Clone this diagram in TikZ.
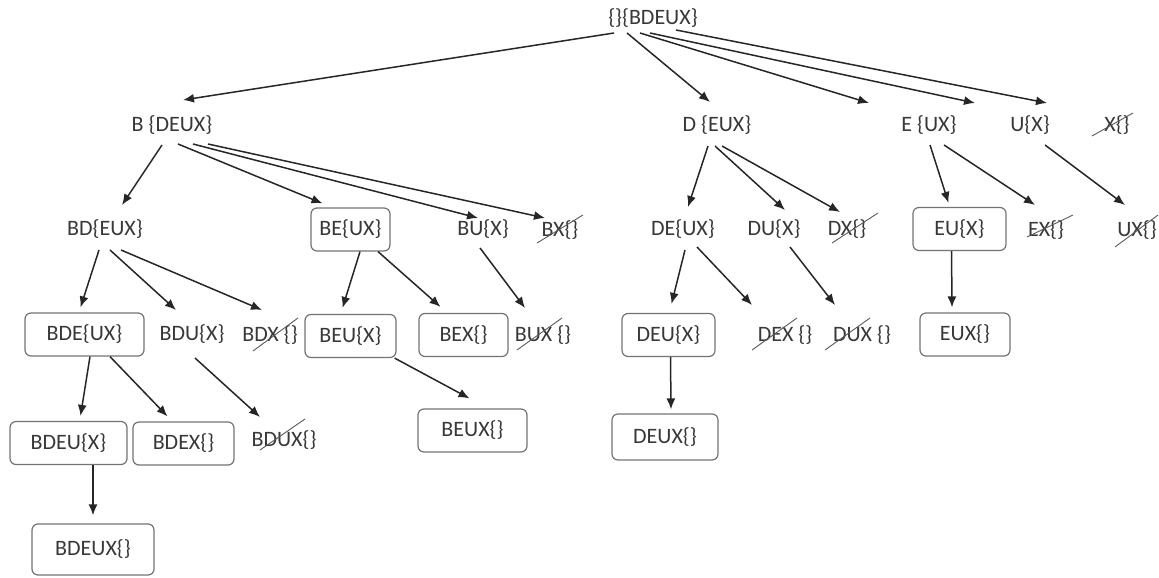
\documentclass[tikz,border=0pt]{standalone}
\usepackage{fontspec}
\setmainfont{Carlito}
\usetikzlibrary{arrows.meta}

\begin{document}
\begin{tikzpicture}[x=0.5pt,y=-0.5pt,
  >={Latex[length=5.5pt,width=4.5pt]},
  every node/.style={font=\fontsize{11}{13}\selectfont,text=black!78,inner sep=1pt},
  plain/.style={},
  box/.style={draw=black!55,line width=0.6pt,rounded corners=3pt,
    minimum height=21.5pt},
  edge/.style={->,line width=0.75pt,black!85},
  strike/.style={line width=0.45pt,black!65}]
  \useasboundingbox (0,0) rectangle (1159,577);

  % level 0 and 1
  \node[plain] (root) at (653,18) {\{\}\{BDEUX\}};
  \node[plain] (B) at (172,125) {B \{DEUX\}};
  \node[plain] (D) at (717,125) {D \{EUX\}};
  \node[plain] (E) at (929,125) {E \{UX\}};
  \node[plain] (U) at (1030,125) {U\{X\}};
  \node[plain] (X) at (1117,125) {X\{\}};

  % level 2
  \node[plain] (BD) at (105,229) {BD\{EUX\}};
  \node[box,minimum width=39.5pt] (BE) at (350.5,229.5) {BE\{UX\}};
  \node[plain] (BU) at (483,229) {BU\{X\}};
  \node[plain] (BX) at (560,230) {BX\{\}};
  \node[plain] (DE) at (683,229) {DE\{UX\}};
  \node[plain] (DU) at (774,229) {DU\{X\}};
  \node[plain] (DX) at (847,229) {DX\{\}};
  \node[box,minimum width=46.5pt] (EU) at (959.5,229) {EU\{X\}};
  \node[plain] (EX) at (1046,230) {EX\{\}};
  \node[plain] (UX) at (1137,230) {UX\{\}};

  % level 3
  \node[box,minimum width=59.5pt] (BDE) at (84.5,334.5) {BDE\{UX\}};
  \node[plain] (BDU) at (192,334) {BDU\{X\}};
  \node[plain] (BDX) at (270,335) {BDX \{\}};
  \node[box,minimum width=45.5pt] (BEU) at (350.5,336) {BEU\{X\}};
  \node[box,minimum width=44.5pt] (BEX) at (463.5,335) {BEX\{\}};
  \node[plain] (BUX) at (543,335) {BUX \{\}};
  \node[box,minimum width=46.5pt] (DEU) at (668.5,335) {DEU\{X\}};
  \node[plain] (DEX) at (785,335) {DEX \{\}};
  \node[plain] (DUX) at (862,335) {DUX \{\}};
  \node[box,minimum width=45pt] (EUX) at (965,334.5) {EUX\{\}};

  % level 4 and 5
  \node[box,minimum width=58.5pt] (BDEU) at (68.5,443) {BDEU\{X\}};
  \node[box,minimum width=50.5pt] (BDEX) at (183.5,443.5) {BDEX\{\}};
  \node[plain] (BDUX) at (284,440) {BDUX\{\}};
  \node[box,minimum width=54.5pt] (BEUX) at (472.5,430.5) {BEUX\{\}};
  \node[box,minimum width=53pt,minimum height=23pt] (DEUX) at (665,437) {DEUX\{\}};
  \node[box,minimum width=61pt,minimum height=25.5pt] (BDEUX) at (93,549.5) {BDEUX\{\}};

  % edges
  \draw[edge] ([shift={(-39,15)}]root.center) -- ([shift={(11,-25)}]B.center);
  \draw[edge] ([shift={(-26,15)}]root.center) -- ([shift={(-7,-23)}]D.center);
  \draw[edge] ([shift={(-13,15)}]root.center) -- ([shift={(-60,-22)}]E.center);
  \draw[edge] ([shift={(-3,15)}]root.center) -- ([shift={(-55,-22)}]U.center);
  \draw[edge] ([shift={(23,12)}]root.center) -- ([shift={(-70,-22)}]X.center);

  \draw[edge] ([shift={(-10,20)}]B.center) -- ([shift={(17,-24)}]BD.center);
  \draw[edge] ([shift={(6,19)}]B.center) -- ([shift={(-28,-4)}]BE.north);
  \draw[edge] ([shift={(21,19)}]B.center) -- ([shift={(-5,-11)}]BU.center);
  \draw[edge] ([shift={(36,19)}]B.center) -- ([shift={(-15,-12)}]BX.center);

  \draw[edge] ([shift={(-6,21)}]BD.center) -- ([shift={(-4,-5)}]BDE.north);
  \draw[edge] ([shift={(5,21)}]BD.center) -- ([shift={(-16,-24)}]BDU.center);
  \draw[edge] ([shift={(16,21)}]BD.center) -- ([shift={(-8,-25)}]BDX.center);
  \draw[edge] ([xshift=4.75pt]BE.south) -- ([shift={(-8,-6)}]BEU.north);
  \draw[edge] ([xshift=13.75pt]BE.south) -- ([shift={(-23,-6)}]BEX.north);
  \draw[edge] ([shift={(-3,19)}]BU.center) -- ([shift={(-18,-27)}]BUX.center);

  \draw[edge] ([xshift=2.75pt]BDE.south) -- ([shift={(12,-5)}]BDEU.north);
  \draw[edge] ([xshift=12.75pt]BDE.south) -- ([shift={(-16,-5)}]BDEX.north);
  \draw[edge] ([shift={(3,24)}]BDU.center) -- ([shift={(-24,-23)}]BDUX.center);
  \draw[edge] ([xshift=-1pt]BEU.south east) -- ([shift={(-3,-10)}]BEUX.north);
  \draw[edge] ([xshift=12.25pt]BDEU.south) -- ([shift={(0,-8)}]BDEUX.north);

  \draw[edge] ([shift={(-9,21)}]D.center) -- ([shift={(5,-22)}]DE.center);
  \draw[edge] ([shift={(-2,21)}]D.center) -- ([shift={(11,-19)}]DU.center);
  \draw[edge] ([shift={(5,21)}]D.center) -- ([shift={(-7,-17)}]DX.center);
  \draw[edge] ([shift={(2,21)}]DE.center) -- ([shift={(3,-9)}]DEU.north);
  \draw[edge] ([shift={(14,18)}]DE.center) -- ([shift={(-33,-30)}]DEX.center);
  \draw[edge] ([shift={(16,18)}]DU.center) -- ([shift={(-27,-30)}]DUX.center);
  \draw[edge] ([xshift=1pt]DEU.south) -- ([shift={(6,-4)}]DEUX.north);

  \draw[edge] ([shift={(1,20)}]E.center) -- ([shift={(-11,-4)}]EU.north);
  \draw[edge] ([shift={(15,20)}]E.center) -- ([shift={(-11,-25)}]EX.center);
  \draw[edge] ([shift={(15,20)}]U.center) -- ([shift={(-12,-25)}]UX.center);
  \draw[edge] ([xshift=-4pt]EU.south) -- ([shift={(-13,-5)}]EUX.north);

  % pruned sets
  \draw[strike] ([shift={(-25,11)}]X.center) -- ([shift={(16,-12)}]X.center);
  \draw[strike] ([shift={(-23,13)}]BX.center) -- ([shift={(23,-15)}]BX.center);
  \draw[strike] ([shift={(-15,14)}]DX.center) -- ([shift={(31,-16)}]DX.center);
  \draw[strike] ([shift={(-19,7)}]EX.center) -- ([shift={(27,-15)}]EX.center);
  \draw[strike] ([shift={(-22,17)}]UX.center) -- ([shift={(21,-15)}]UX.center);
  \draw[strike] ([shift={(-17,16)}]BDX.center) -- ([shift={(28,-17)}]BDX.center);
  \draw[strike] ([shift={(-26,15)}]BUX.center) -- ([shift={(19,-17)}]BUX.center);
  \draw[strike] ([shift={(-33,15)}]DEX.center) -- ([shift={(12,-17)}]DEX.center);
  \draw[strike] ([shift={(-37,15)}]DUX.center) -- ([shift={(8,-17)}]DUX.center);
  \draw[strike] ([shift={(-24,10)}]BDUX.center) -- ([shift={(21,-21)}]BDUX.center);
\end{tikzpicture}
\end{document}
